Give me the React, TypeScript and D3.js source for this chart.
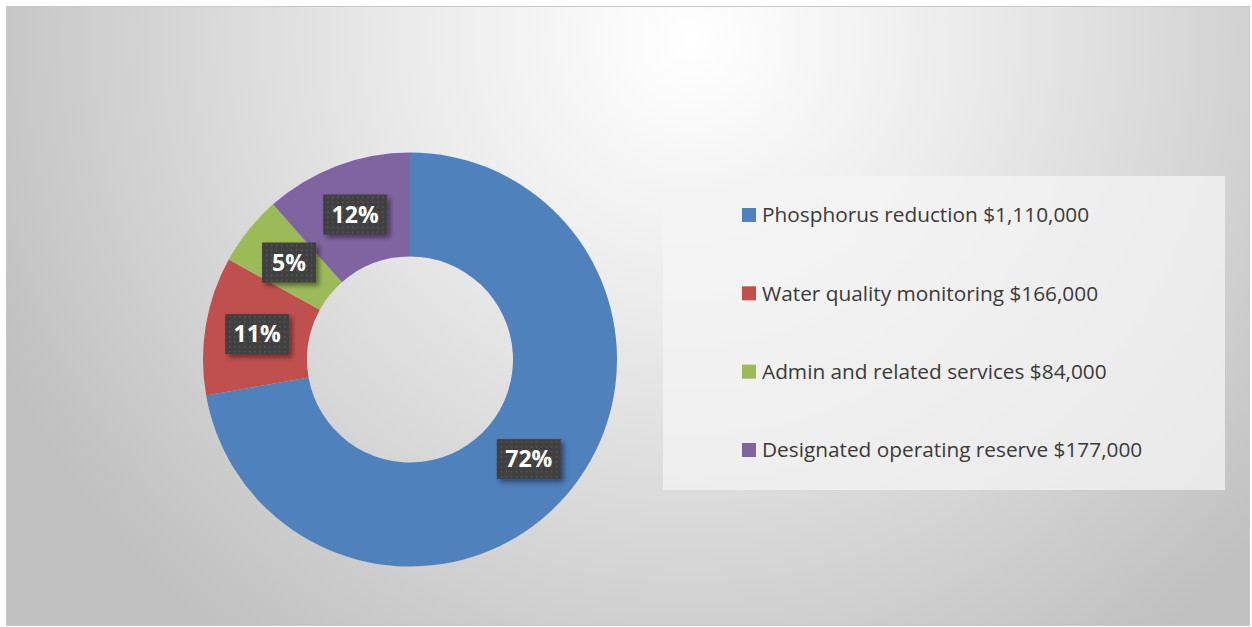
import * as d3 from "d3";
import { useEffect, useRef } from "react";

const categories = [
  "Phosphorus reduction",
  "Water quality monitoring",
  "Admin and related services",
  "Designated operating reserve",
];
const amounts = [1110000, 166000, 84000, 177000];
const colors = ["#4F81BD", "#C0504D", "#9BBB59", "#8064A2"];

export default function App() {
  const ref = useRef<SVGSVGElement>(null);

  useEffect(() => {
    const width = 1252;
    const height = 627;
    const svg = d3.select(ref.current);
    svg.selectAll("*").remove();
    svg.attr("width", width).attr("height", height);

    const defs = svg.append("defs");
    const bg = defs.append("radialGradient")
      .attr("id", "bg")
      .attr("gradientUnits", "userSpaceOnUse")
      .attr("cx", 690).attr("cy", 40).attr("r", 760);
    bg.append("stop").attr("offset", "0%").attr("stop-color", "#ffffff");
    bg.append("stop").attr("offset", "35%").attr("stop-color", "#ececec");
    bg.append("stop").attr("offset", "100%").attr("stop-color", "#c0c0c0");

    const pat = defs.append("pattern")
      .attr("id", "dots")
      .attr("patternUnits", "userSpaceOnUse")
      .attr("width", 5).attr("height", 5);
    pat.append("rect").attr("width", 5).attr("height", 5).attr("fill", "#404040");
    pat.append("rect").attr("x", 2).attr("y", 2).attr("width", 1.4).attr("height", 1.4).attr("fill", "#5c5c5c");

    const shadow = defs.append("filter").attr("id", "shadow")
      .attr("x", "-30%").attr("y", "-30%").attr("width", "160%").attr("height", "160%");
    shadow.append("feDropShadow")
      .attr("dx", 3).attr("dy", 3).attr("stdDeviation", 2.5)
      .attr("flood-color", "#000").attr("flood-opacity", 0.45);

    svg.append("rect")
      .attr("x", 6.5).attr("y", 6.5)
      .attr("width", 1243).attr("height", 619)
      .attr("fill", "url(#bg)")
      .attr("stroke", "#c8c8c8");

    const cx = 410;
    const cy = 359.5;
    const outer = 207;
    const inner = 103;

    const data = categories.map((c, i) => ({ c, v: amounts[i], color: colors[i] }));
    const total = d3.sum(amounts);
    const pct = (v: number) => Math.round((v / total) * 100);
    const pie = d3.pie<typeof data[0]>().value(d => d.v).sort(null);
    const arc = d3.arc<d3.PieArcDatum<typeof data[0]>>()
      .innerRadius(inner).outerRadius(outer);
    const arcs = pie(data);

    const g = svg.append("g").attr("transform", `translate(${cx},${cy})`);
    g.selectAll("path.slice")
      .data(arcs)
      .enter()
      .append("path")
      .attr("class", "slice")
      .attr("d", arc)
      .attr("fill", d => d.data.color);

    const labels = g.selectAll("g.lbl")
      .data(arcs)
      .enter()
      .append("g")
      .attr("class", "lbl")
      .attr("transform", d => `translate(${arc.centroid(d)})`);

    labels.append("rect")
      .attr("x", d => (pct(d.data.v) >= 10 ? -32 : -27))
      .attr("y", -20)
      .attr("width", d => (pct(d.data.v) >= 10 ? 64 : 54))
      .attr("height", 40)
      .attr("fill", "url(#dots)")
      .attr("filter", "url(#shadow)");

    labels.append("text")
      .attr("text-anchor", "middle")
      .attr("dy", "0.36em")
      .attr("fill", "#ffffff")
      .attr("font-family", "'Open Sans', sans-serif")
      .attr("font-weight", 700)
      .attr("font-size", 23)
      .text(d => `${pct(d.data.v)}%`);

    // legend
    svg.append("rect")
      .attr("x", 663).attr("y", 176)
      .attr("width", 562).attr("height", 314)
      .attr("fill", "#f4f4f4")
      .attr("fill-opacity", 0.75);

    const fmt = d3.format("$,");
    const ly = d3.scalePoint<string>()
      .domain(categories)
      .range([215, 450]);

    const items = svg.selectAll("g.leg")
      .data(data)
      .enter()
      .append("g")
      .attr("class", "leg")
      .attr("transform", d => `translate(742,${ly(d.c)})`);

    items.append("rect")
      .attr("x", 0).attr("y", -7)
      .attr("width", 14).attr("height", 14)
      .attr("fill", d => d.color);

    items.append("text")
      .attr("x", 20)
      .attr("dy", "0.35em")
      .attr("fill", "#3a3a3a")
      .attr("font-family", "'Open Sans', sans-serif")
      .attr("font-size", 20.8)
      .text(d => `${d.c} ${fmt(d.v)}`);
  }, []);

  return <svg ref={ref} style={{ position: "absolute", left: 0, top: 0 }} />;
}
